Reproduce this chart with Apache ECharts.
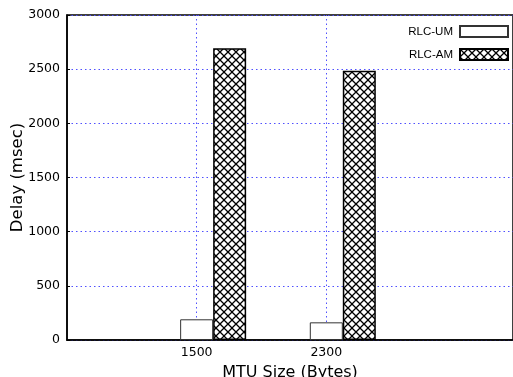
<!DOCTYPE html>
<html>
<head>
<meta charset="utf-8">
<script src="https://cdn.jsdelivr.net/npm/echarts@6/dist/echarts.min.js"></script>
<style>html,body{margin:0;padding:0;background:#fff}#c{width:513px;height:377px}</style>
</head>
<body>
<div id="c"></div>
<script>
var categories = ['1500', '2300'];
var seriesNames = ['RLC-UM', 'RLC-AM'];
var umValues = [191, 163];
var amValues = [2693, 2485];
var yTicks = [0, 500, 1000, 1500, 2000, 2500, 3000];

function hatch() {
  var s = 8, c = document.createElement('canvas');
  c.width = s; c.height = s;
  var g = c.getContext('2d');
  g.fillStyle = '#fff'; g.fillRect(0, 0, s, s);
  g.strokeStyle = '#000'; g.lineWidth = 1.3;
  g.beginPath();
  g.moveTo(-1, -1); g.lineTo(s + 1, s + 1);
  g.moveTo(s + 1, -1); g.lineTo(-1, s + 1);
  g.stroke();
  return c;
}
var pattern = { image: hatch(), repeat: 'repeat' };

var pos = categories.map(function (_, i) { return i + 1; });
var umData = pos.map(function (p, i) { return [p, umValues[i]]; });
var amData = pos.map(function (p, i) { return [p, amValues[i]]; });
var dummyData = pos.map(function (p) { return [p, 0]; });

var font = 'DejaVu Sans';
var gridBlue = '#5050ff';
var chart = echarts.init(document.getElementById('c'));
chart.setOption({
  animation: false,
  backgroundColor: '#fff',
  grid: { left: 67, right: 0, top: 15, bottom: 37, containLabel: false, outerBoundsMode: 'none',
    show: true, borderColor: '#000', borderWidth: 1.5, backgroundColor: 'transparent' },
  legend: {
    data: seriesNames,
    orient: 'vertical',
    right: 4, top: 25, padding: 0,
    align: 'right', icon: 'rect',
    itemWidth: 48, itemHeight: 11, itemGap: 10,
    textStyle: { fontFamily: 'Liberation Sans', fontSize: 11.5, color: '#000', padding: [0, 2, 0, 0] }
  },
  xAxis: {
    type: 'value', min: 0, max: 3.44, interval: 1,
    name: 'MTU Size (Bytes)', nameLocation: 'middle', nameGap: 25, nameMoveOverlap: false,
    nameTextStyle: { fontFamily: font, fontSize: 16, color: '#000' },
    axisLine: { show: true, lineStyle: { color: '#000', width: 1.5 } },
    axisTick: { show: false },
    splitLine: { show: false },
    axisLabel: {
      fontFamily: font, fontSize: 12.5, color: '#000', margin: 6,
      formatter: function (v) { return categories[v - 1] || ''; }
    }
  },
  yAxis: {
    type: 'value', min: yTicks[0], max: yTicks[yTicks.length - 1], interval: 500,
    name: 'Delay (msec)', nameLocation: 'middle', nameGap: 41, nameMoveOverlap: false,
    nameTextStyle: { fontFamily: font, fontSize: 16.5, color: '#000' },
    axisLine: { show: true, lineStyle: { color: '#000', width: 1.5 } },
    axisTick: { show: true, inside: true, length: 3, lineStyle: { color: '#000' } },
    splitLine: { show: true, lineStyle: { color: gridBlue, type: [1.5, 3], width: 1 } },
    axisLabel: { fontFamily: font, fontSize: 12.5, color: '#000', margin: 7,
      formatter: function (v) { return String(v); } }
  },
  series: [
    {
      name: '_grid', type: 'line', data: [], z: 1, silent: true,
      markLine: {
        silent: true, symbol: 'none', z: 1,
        label: { show: false },
        lineStyle: { color: gridBlue, type: [1.5, 3], width: 1 },
        data: pos.map(function (p) { return { xAxis: p }; })
      }
    },
    {
      name: '_gap', type: 'bar', data: dummyData, barWidth: 33, barGap: '0%', z: 2, silent: true,
      itemStyle: { color: 'transparent' }
    },
    {
      name: seriesNames[0], type: 'bar', data: umData, barWidth: 33, barGap: '0%', z: 3,
      itemStyle: { color: '#fff', borderColor: '#333', borderWidth: 1 }
    },
    {
      name: seriesNames[1], type: 'bar', data: amData, barWidth: 33, barGap: '0%', z: 3,
      itemStyle: { color: pattern, borderColor: '#000', borderWidth: 1.5 }
    }
  ]
});
</script>
</body>
</html>
